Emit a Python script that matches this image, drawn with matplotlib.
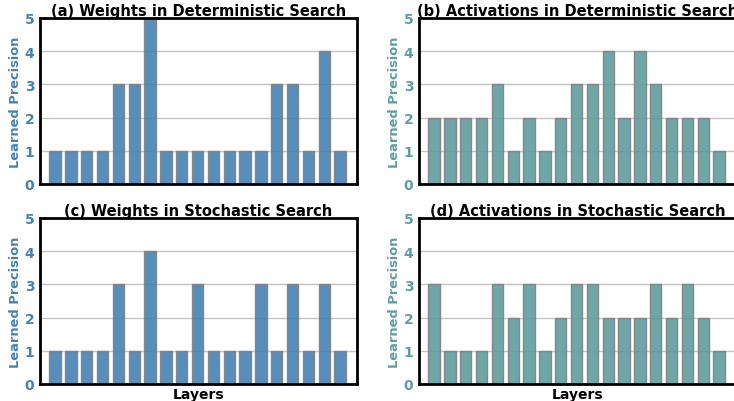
import numpy as np
import matplotlib.pyplot as plt

layers = np.arange(19)

weights_det = [1, 1, 1, 1, 3, 3, 5, 1, 1, 1, 1, 1, 1, 1, 3, 3, 1, 4, 1]
acts_det = [2, 2, 2, 2, 3, 1, 2, 1, 2, 3, 3, 4, 2, 4, 3, 2, 2, 2, 1]
weights_sto = [1, 1, 1, 1, 3, 1, 4, 1, 1, 3, 1, 1, 1, 3, 1, 3, 1, 3, 1]
acts_sto = [3, 1, 1, 1, 3, 2, 3, 1, 2, 3, 3, 2, 2, 2, 3, 2, 3, 2, 1]

titles = ['(a) Weights in Deterministic Search',
          '(b) Activations in Deterministic Search',
          '(c) Weights in Stochastic Search',
          '(d) Activations in Stochastic Search']

fig = plt.figure(figsize=(7.34, 4.02), dpi=100)

W, H = 734, 402
# axes boxes in pixels: left, top, width, height
boxes = [(40, 19, 317, 166), (419, 19, 317, 166),
         (40, 219, 317, 166), (419, 219, 317, 166)]
data = [weights_det, acts_det, weights_sto, acts_sto]
colors = ['steelblue', 'cadetblue', 'steelblue', 'cadetblue']

for i in range(4):
    l, t, w, h = boxes[i]
    ax = fig.add_axes([l / W, 1 - (t + h) / H, w / W, h / H])
    ax.bar(layers, data[i], width=0.72, color=colors[i], alpha=0.9,
           edgecolor='gray', linewidth=1.0, zorder=2)
    ax.set_xlim(-0.95, 19.07)
    ax.set_ylim(0, 5)
    ax.set_yticks([0, 1, 2, 3, 4, 5])
    ax.set_xticks([])
    ax.grid(axis='y', color='#c4c4c4', linewidth=1.0, zorder=0)
    ax.set_axisbelow(True)
    for s in ax.spines.values():
        s.set_linewidth(2)
        s.set_color('black')
    ax.tick_params(axis='y', length=0, pad=4, labelsize=10,
                   labelcolor=colors[i])
    for lab in ax.get_yticklabels():
        lab.set_fontweight('bold')
    ax.set_ylabel('Learned Precision', fontsize=9.4, fontweight='bold',
                  color=colors[i], labelpad=2)
    ax.set_title(titles[i], fontsize=10.5, fontweight='bold', pad=2)
    if i >= 2:
        ax.set_xlabel('Layers', fontsize=10, fontweight='bold', labelpad=2)

fig.savefig('out.png', dpi=100)
